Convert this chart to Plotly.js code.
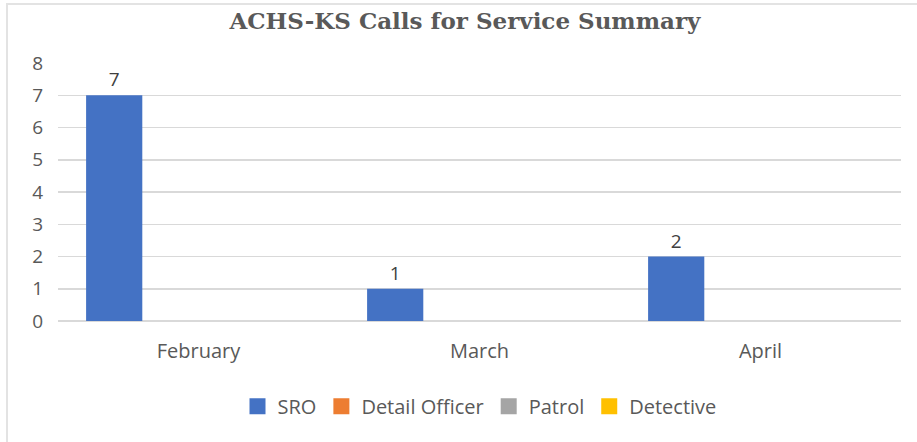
<!DOCTYPE html>
<html>
<head>
<meta charset="utf-8">
<script src="https://cdn.plot.ly/plotly-3.0.1.min.js"></script>
<style>
html,body{margin:0;padding:0;background:#fff;}
#wrap{position:absolute;left:0;top:0;width:917px;height:442px;}
#border{position:absolute;left:6px;top:3px;width:930px;height:460px;border-left:2px solid #e3e3e3;border-top:2px solid #e3e3e3;}
#chart{position:absolute;left:0;top:0;width:917px;height:442px;}
</style>
</head>
<body>
<div id="wrap"><div id="border"></div><div id="chart"></div></div>
<script>
const months = ["February", "March", "April"];
const seriesNames = ["SRO", "Detail Officer", "Patrol", "Detective"];
const sro = [7, 1, 2];
const detailOfficer = [0, 0, 0];
const patrol = [0, 0, 0];
const detective = [0, 0, 0];
const colors = ["#4472C4", "#ED7D31", "#A5A5A5", "#FFC000"];
const yTicks = [0, 1, 2, 3, 4, 5, 6, 7, 8];

const FONT = "'Open Sans', 'Noto Sans', sans-serif";
const values = [sro, detailOfficer, patrol, detective];
const traces = values.map((v, i) => ({
  type: "bar",
  name: seriesNames[i],
  x: months,
  y: v,
  marker: {color: colors[i]},
  text: i === 0 ? v.map(String) : undefined,
  textposition: i === 0 ? "outside" : "none",
  textfont: {family: FONT, size: 19, color: "#404040"},
  cliponaxis: false,
  showlegend: false,
  hoverinfo: "none"
}));
// legend entries with larger square swatches
seriesNames.forEach((n, i) => traces.push({
  type: "scatter", mode: "markers", name: n,
  x: [null], y: [null],
  marker: {symbol: "square", size: 16, color: colors[i]},
  showlegend: true, hoverinfo: "none"
}));

const layout = {
  width: 917, height: 442,
  paper_bgcolor: "rgba(0,0,0,0)",
  plot_bgcolor: "rgba(0,0,0,0)",
  margin: {l: 58, r: 16, t: 63, b: 121},
  title: {
    text: "<b>ACHS-KS Calls for Service Summary</b>",
    font: {family: "'DejaVu Serif', 'Liberation Serif', serif", size: 23, color: "#595959"},
    x: 0.507, xanchor: "center", y: 0.952, yanchor: "middle"
  },
  barmode: "group",
  bargap: 0.2,
  bargroupgap: 0,
  xaxis: {
    showgrid: false, zeroline: false, showline: false, ticks: "",
    tickfont: {family: FONT, size: 20, color: "#595959"},
    ticklabelstandoff: 16
  },
  yaxis: {
    range: [0, 8], tickvals: yTicks, ticktext: yTicks.map(String),
    showgrid: true, gridcolor: "#d9d9d9", gridwidth: 1.5,
    zeroline: true, zerolinecolor: "#d9d9d9", zerolinewidth: 1.5,
    showline: false, ticks: "",
    tickfont: {family: FONT, size: 19, color: "#595959"},
    ticklabelstandoff: 14
  },
  showlegend: true,
  legend: {
    orientation: "h", x: 0.5, xanchor: "center", y: -0.33, yanchor: "middle",
    font: {family: FONT, size: 20, color: "#595959"},
    itemwidth: 30, tracegroupgap: 0
  }
};

Plotly.newPlot("chart", traces, layout, {displayModeBar: false, staticPlot: true});
</script>
</body>
</html>
